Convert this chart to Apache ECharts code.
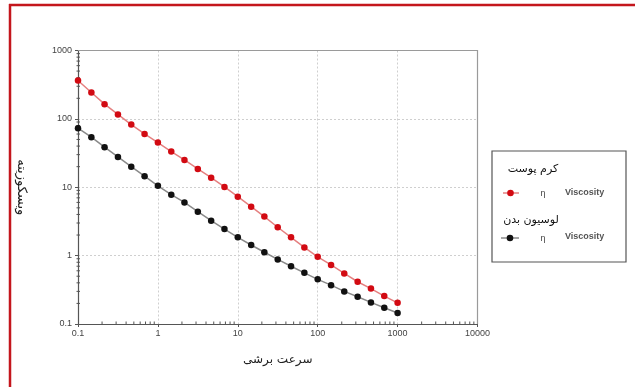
<!DOCTYPE html>
<html>
<head>
<meta charset="utf-8">
<script src="https://cdn.jsdelivr.net/npm/echarts@6/dist/echarts.min.js"></script>
<style>html,body{margin:0;padding:0;background:#fff}#c{width:635px;height:387px}</style>
</head>
<body>
<div id="c"></div>
<script>
// shear rate (x) values
var shearRate = [0.1, 0.147, 0.215, 0.316, 0.464, 0.681, 1, 1.47, 2.15, 3.16, 4.64, 6.81, 10, 14.7, 21.5, 31.6, 46.4, 68.1, 100, 147, 215, 316, 464, 681, 1000];
// viscosity for skin cream (red)
var creamViscosity = [364, 243, 164, 116, 82.5, 60.3, 45, 33.2, 25.1, 18.5, 13.8, 10.1, 7.28, 5.2, 3.72, 2.6, 1.85, 1.32, 0.96, 0.73, 0.55, 0.415, 0.33, 0.256, 0.204];
// viscosity for body lotion (black)
var lotionViscosity = [73, 54, 38.5, 27.8, 20, 14.5, 10.5, 7.8, 6.0, 4.4, 3.24, 2.45, 1.85, 1.43, 1.12, 0.88, 0.70, 0.56, 0.45, 0.37, 0.30, 0.25, 0.207, 0.173, 0.145];
var xTickLabels = ['0.1', '1', '10', '100', '1000', '10000'];
var yTickLabels = ['0.1', '1', '10', '100', '1000'];
var creamName = 'کرم پوست';
var lotionName = 'لوسیون بدن';
var xTitle = 'سرعت برشی';
var yTitle = 'ویسکوزیته';

function pairs(xs, ys) { return xs.map(function (x, i) { return [x, ys[i]]; }); }

// minor tick values (2..9 per decade)
var xMinor = [], yMinor = [];
[0.1, 1, 10, 100, 1000].forEach(function (d) {
  for (var k = 2; k <= 9; k++) { xMinor.push([+(k * d).toPrecision(3), 0.1]); }
});
[0.1, 1, 10, 100].forEach(function (d) {
  for (var k = 2; k <= 9; k++) { yMinor.push([0.1, +(k * d).toPrecision(3)]); }
});

var chart = echarts.init(document.getElementById('c'), null, { renderer: 'canvas' });
var latin = 'Liberation Sans, Arial, sans-serif';
var persian = 'DejaVu Sans, sans-serif';
var frameAxis = { show: true, lineStyle: { color: '#9a9a9a', width: 1.2 } };

chart.setOption({
  animation: false,
  backgroundColor: '#ffffff',
  grid: { left: 78, right: 157.5, top: 50.5, bottom: 63, containLabel: false, outerBoundsMode: 'none' },
  xAxis: [{
    type: 'log', logBase: 10, min: 0.1, max: 10000,
    axisLine: { show: true, lineStyle: { color: '#555', width: 1.2 } },
    axisTick: { show: true, inside: false, length: 3, lineStyle: { color: '#555' } },
    axisLabel: { color: '#444', fontSize: 9, fontFamily: latin, margin: 5,
      formatter: function (v) { var s = String(+v.toPrecision(6)); return xTickLabels.indexOf(s) >= 0 ? s : ''; } },
    splitLine: { show: true, lineStyle: { color: '#cfcfcf', type: [2, 2], width: 1 } },
    name: xTitle, nameLocation: 'middle', nameGap: 30,
    nameTextStyle: { color: '#222', fontSize: 12, fontFamily: persian }
  }, {
    type: 'log', logBase: 10, min: 0.1, max: 10000, position: 'top',
    axisLine: frameAxis, axisTick: { show: false }, axisLabel: { show: false }, splitLine: { show: false }
  }],
  yAxis: [{
    type: 'log', logBase: 10, min: 0.1, max: 1000,
    axisLine: { show: true, lineStyle: { color: '#555', width: 1.2 } },
    axisTick: { show: true, inside: false, length: 3, lineStyle: { color: '#555' } },
    axisLabel: { color: '#444', fontSize: 9, fontFamily: latin, margin: 6,
      formatter: function (v) { var s = String(+v.toPrecision(6)); return yTickLabels.indexOf(s) >= 0 ? s : ''; } },
    splitLine: { show: true, lineStyle: { color: '#cfcfcf', type: [2, 2], width: 1 } },
    name: yTitle, nameLocation: 'middle', nameGap: 50, nameRotate: -90,
    nameTextStyle: { color: '#222', fontSize: 13, fontFamily: persian }
  }, {
    type: 'log', logBase: 10, min: 0.1, max: 1000, position: 'right',
    axisLine: frameAxis, axisTick: { show: false }, axisLabel: { show: false }, splitLine: { show: false }
  }],
  series: [
    {
      type: 'custom', silent: true, clip: false, z: 5,
      data: xMinor,
      renderItem: function (params, api) {
        var p = api.coord([api.value(0), api.value(1)]);
        return { type: 'line', shape: { x1: p[0], y1: p[1] - 2.5, x2: p[0], y2: p[1] + 1 }, style: { stroke: '#555', lineWidth: 1 } };
      }
    },
    {
      type: 'custom', silent: true, clip: false, z: 5,
      data: yMinor,
      renderItem: function (params, api) {
        var p = api.coord([api.value(0), api.value(1)]);
        return { type: 'line', shape: { x1: p[0] - 1.5, y1: p[1], x2: p[0] + 2, y2: p[1] }, style: { stroke: '#555', lineWidth: 1 } };
      }
    },
    {
      name: creamName, type: 'line', data: pairs(shearRate, creamViscosity),
      symbol: 'circle', symbolSize: 6.5, z: 10,
      lineStyle: { color: '#e58080', width: 1.5 },
      itemStyle: { color: '#d20a12', borderWidth: 0 }
    },
    {
      name: lotionName, type: 'line', data: pairs(shearRate, lotionViscosity),
      symbol: 'circle', symbolSize: 6.5, z: 9,
      lineStyle: { color: '#8a8a8a', width: 1.5 },
      itemStyle: { color: '#111111', borderWidth: 0 }
    }
  ],
  graphic: [
    // red page frame
    { type: 'line', shape: { x1: 9, y1: 5, x2: 635, y2: 5 }, style: { stroke: '#c4161c', lineWidth: 2.5 } },
    { type: 'line', shape: { x1: 10, y1: 4, x2: 10, y2: 387 }, style: { stroke: '#c4161c', lineWidth: 2.5 } },
    // legend box
    { type: 'rect', shape: { x: 492, y: 151, width: 134, height: 111 }, style: { fill: '#fff', stroke: '#555', lineWidth: 1.2 } },
    { type: 'text', x: 533, y: 169, style: { text: creamName, font: '11px DejaVu Sans', fill: '#111', align: 'center', verticalAlign: 'middle' } },
    { type: 'line', shape: { x1: 503, y1: 193, x2: 519, y2: 193 }, style: { stroke: '#e58080', lineWidth: 1.5 } },
    { type: 'circle', shape: { cx: 510.5, cy: 193, r: 3.3 }, style: { fill: '#d20a12' } },
    { type: 'text', x: 543, y: 194, style: { text: 'η', font: '9px Liberation Sans', fill: '#444', align: 'center', verticalAlign: 'middle' } },
    { type: 'text', x: 565, y: 193, style: { text: 'Viscosity', font: 'bold 9px Liberation Sans', fill: '#555', align: 'left', verticalAlign: 'middle' } },
    { type: 'text', x: 531, y: 220, style: { text: lotionName, font: '11px DejaVu Sans', fill: '#111', align: 'center', verticalAlign: 'middle' } },
    { type: 'line', shape: { x1: 501, y1: 238, x2: 519, y2: 238 }, style: { stroke: '#8a8a8a', lineWidth: 1.5 } },
    { type: 'circle', shape: { cx: 510, cy: 238, r: 3.3 }, style: { fill: '#111' } },
    { type: 'text', x: 543, y: 239, style: { text: 'η', font: '9px Liberation Sans', fill: '#444', align: 'center', verticalAlign: 'middle' } },
    { type: 'text', x: 565, y: 237, style: { text: 'Viscosity', font: 'bold 9px Liberation Sans', fill: '#555', align: 'left', verticalAlign: 'middle' } }
  ]
});
</script>
</body>
</html>
